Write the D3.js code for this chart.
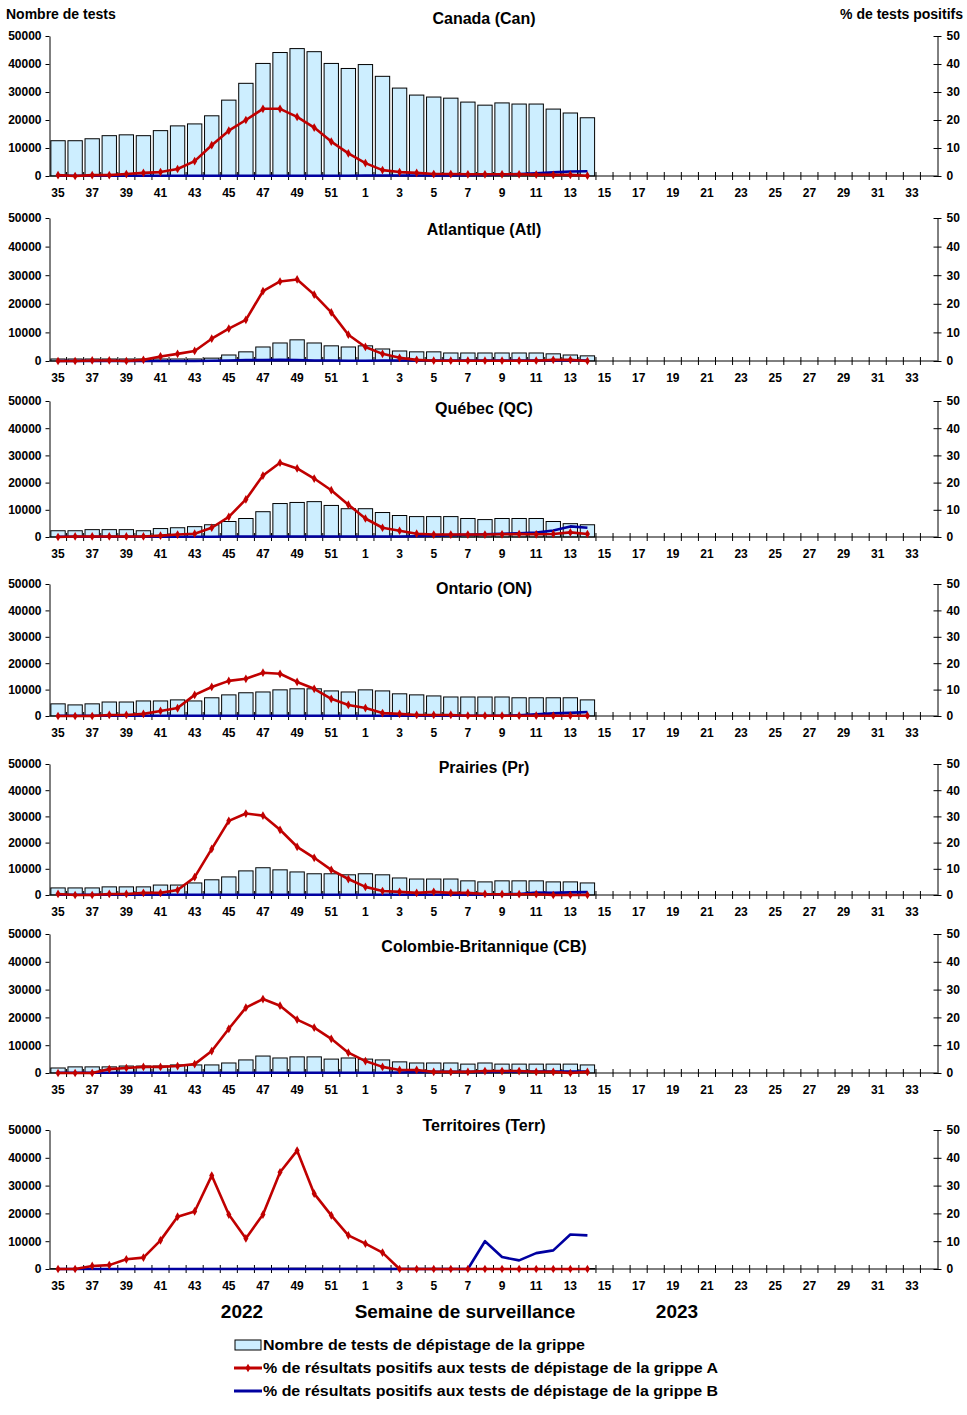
<!DOCTYPE html>
<html>
<head>
<meta charset="utf-8">
<script src="https://cdn.jsdelivr.net/npm/d3@7"></script>
<style>
  body { margin: 0; background: #fff; }
  svg { display: block; font-family: "Liberation Sans", Arial, sans-serif; font-weight: bold; }
</style>
</head>
<body>
<div id="chart"></div>
<script>
// surveillance weeks, 2022 (35-52) then 2023 (1-34)
const weeks = [35,36,37,38,39,40,41,42,43,44,45,46,47,48,49,50,51,52,
  1,2,3,4,5,6,7,8,9,10,11,12,13,14,15,16,17,18,19,20,21,22,23,24,25,26,27,28,29,30,31,32,33,34];
const labelWeeks = [35,37,39,41,43,45,47,49,51,1,3,5,7,9,11,13,15,17,19,21,23,25,27,29,31,33];
const testTicks = [0,10000,20000,30000,40000,50000];
const pctTicks = [0,10,20,30,40,50];

// number of tests, weeks 35 to 14
const canTests = [12600,12600,13300,14400,14700,14400,16200,17900,18600,21500,27100,33100,40200,44100,45500,44400,40200,38400,
  39800,35600,31400,28900,28200,27800,26400,25300,26100,25700,25700,23900,22500,20800];
const atlTests = [700,700,700,700,700,700,700,700,700,1000,2100,3200,4900,6300,7400,6300,5300,4900,
  5300,4200,3500,3200,3200,2800,2800,2800,2800,2800,2800,2500,2100,1800];
const qcTests = [2300,2300,2700,2700,2700,2300,3100,3400,3800,4500,5700,6800,9300,12300,12700,13000,11600,10400,
  10400,9000,7900,7500,7500,7500,6800,6400,6800,6800,6800,5700,4900,4500];
const onTests = [4600,4200,4600,5300,5300,5700,5700,6100,5700,6900,8000,8800,9100,9900,10300,10300,9500,9100,
  9900,9500,8400,8000,7600,7200,7200,7200,7200,6900,6900,6900,6900,6100];
const prTests = [2700,2700,2700,3100,3100,3100,3800,3800,4600,5800,6900,9200,10400,9600,8800,8100,8100,7700,
  8100,7700,6500,6100,6100,6100,5400,5000,5400,5400,5400,5000,5000,4600];
const cbTests = [1800,2200,2200,2200,2500,2500,2500,2900,2900,2900,3600,4700,6100,5400,5800,5800,5000,5400,
  5000,4700,4000,3600,3600,3600,3200,3600,3200,3200,3200,3200,3200,2900];
const terrTests = [120,130,140,150,150,160,170,180,200,210,230,250,260,280,300,290,270,260,
  270,260,240,230,220,210,200,200,190,190,180,180,170,160];

// % positive influenza A
const canA = [0.3,0,0.3,0.3,0.7,1.1,1.4,2.5,5.3,11.0,16.2,20.0,24.0,24.0,21.1,17.3,12.3,8.1,
  4.6,2.1,1.4,1.1,0.7,0.7,0.6,0.6,0.6,0.6,0.5,0.4,0.4,0.1];
const atlA = [0,0,0.2,0.2,0,0.4,1.6,2.5,3.5,7.8,11.3,14.4,24.4,27.8,28.5,23.2,17.0,9.2,
  4.9,2.5,1.1,0.4,0.1,0.1,0.1,0.1,0.1,0.1,0.1,0.4,0.4,0];
const qcA = [0,0.2,0.2,0.2,0.2,0.2,0.5,0.9,1.2,3.4,7.4,13.8,22.6,27.3,25.2,21.5,17.2,11.9,
  6.8,3.4,2.3,1.2,0.9,0.9,0.9,0.9,1.0,1.1,1.0,1.1,1.7,1.1];
const onA = [0,0,0,0.4,0.4,0.8,1.9,3.0,8.0,11.0,13.3,14.1,16.4,16.0,12.9,10.3,6.5,4.2,
  3.0,1.1,0.8,0.4,0.4,0.4,0.1,0.1,0.1,0.1,0.1,0.1,0.1,0.1];
const prA = [0.4,0,0,0.4,0.4,0.8,0.8,1.9,6.8,17.6,28.3,31.1,30.3,24.9,18.4,14.2,9.6,6.1,
  3.1,1.5,1.2,0.8,1.2,0.8,0.8,0.4,0.3,0.3,0.3,0,0,0];
const cbA = [0,0,0,1.4,1.8,2.2,2.2,2.5,3.2,7.9,15.9,23.5,26.6,24.2,19.2,16.3,12.3,7.3,
  4.3,2.2,1.1,1.1,0.4,0.4,0.4,0.7,0.7,0.7,0.4,0.4,0,0.4];
const terrA = [0,0,1.1,1.4,3.5,4.1,10.3,18.8,20.7,33.6,19.6,11.0,19.6,34.8,42.6,27.1,19.3,12.1,
  9.1,5.9,0,0,0,0,0,0,0,0,0,0,0,0];

// % positive influenza B
const canB = [0.1,0.1,0.1,0.1,0.1,0.1,0.1,0.1,0.1,0.1,0.1,0.1,0.1,0.1,0.1,0.1,0.1,0.1,
  0.2,0.2,0.2,0.2,0.2,0.2,0.3,0.4,0.5,0.7,1.0,1.3,1.6,1.7];
const atlB = [0,0,0,0,0,0,0,0,0,0.1,0.2,0.3,0.3,0.4,0.3,0.2,0.2,0.1,
  0.1,0.2,0.2,0.2,0.2,0.2,0.2,0.2,0.2,0.2,0.2,0.2,0.2,0.2];
const qcB = [0.1,0.1,0.1,0.1,0.1,0.1,0.1,0.1,0.1,0.1,0.2,0.2,0.2,0.2,0.2,0.2,0.2,0.2,
  0.2,0.2,0.2,0.3,0.5,0.7,0.8,1.0,1.2,1.4,1.6,2.4,3.9,3.4];
const onB = [0.1,0.1,0.1,0.1,0.1,0.1,0.1,0.1,0.1,0.1,0.1,0.1,0.1,0.1,0.1,0.1,0.1,0.1,
  0.1,0.1,0.1,0.1,0.1,0.1,0.1,0.1,0.1,0.3,0.6,1.0,1.2,1.5];
const prB = [0.1,0.1,0.1,0.1,0.1,0.1,0.1,0.1,0.1,0.1,0.1,0.1,0.1,0.1,0.1,0.1,0.1,0.1,
  0.1,0.1,0.1,0.1,0.1,0.1,0.1,0.2,0.3,0.4,0.9,0.8,1.0,1.1];
const cbB = [0.1,0.1,0.1,0.1,0.1,0.1,0.1,0.1,0.1,0.1,0.1,0.1,0.1,0.1,0.1,0.1,0.1,0.1,
  0.1,0.1,0.2,0.3,0.4,0.4,0.4,0.4,0.5,0.5,0.5,0.5,0.5,0.5];
const terrB = [0,0,0,0,0,0,0,0,0,0,0,0,0,0,0,0,0,0,
  0,0,0,0,0,0,0,10.0,4.3,3.1,5.7,6.7,12.4,12.1];

const regionNames = ["Canada (Can)","Atlantique (Atl)","Québec (QC)","Ontario (ON)",
  "Prairies (Pr)","Colombie-Britannique (CB)","Territoires (Terr)"];

const regions = [
  {name: regionNames[0], tests: canTests, a: canA, b: canB},
  {name: regionNames[1], tests: atlTests, a: atlA, b: atlB},
  {name: regionNames[2], tests: qcTests, a: qcA, b: qcB},
  {name: regionNames[3], tests: onTests, a: onA, b: onB},
  {name: regionNames[4], tests: prTests, a: prA, b: prB},
  {name: regionNames[5], tests: cbTests, a: cbA, b: cbB},
  {name: regionNames[6], tests: terrTests, a: terrA, b: terrB}
];

// panel layout (pixel rows of the 50000 line, the 0 line and the title)
const panelTop = [36, 218, 401, 584, 764, 934, 1130];
const panelBottom = [176, 361, 537, 716, 895, 1073, 1269];
const titleY = [20, 231, 410, 590, 769, 948, 1127];

const width = 967;
const height = 1415;
const colA = "#c00000";
const colB = "#0000a0";

const svg = d3.select("#chart")
  .append("svg")
  .attr("width", width)
  .attr("height", height)
  .attr("viewBox", [0, 0, width, height]);

const x = d3.scaleBand()
  .domain(weeks)
  .range([49.5, 937.5])
  .padding(0);
const step = x.step();

regions.forEach((r, p) => {
  const g = svg.append("g");
  const y = d3.scaleLinear().domain([0, 50000]).range([panelBottom[p], panelTop[p]]);
  const yp = d3.scaleLinear().domain([0, 50]).range([panelBottom[p], panelTop[p]]);
  const dataWeeks = weeks.slice(0, r.tests.length);

  // bars
  g.append("g")
    .selectAll("rect")
    .data(r.tests)
    .join("rect")
    .attr("x", (d, i) => x(dataWeeks[i]) + step * 0.08)
    .attr("y", d => y(d))
    .attr("width", step * 0.84)
    .attr("height", d => y(0) - y(d))
    .attr("fill", "#cdeeff")
    .attr("stroke", "#000")
    .attr("stroke-width", 1);

  // left axis
  g.append("g")
    .attr("transform", `translate(${x.range()[0]},0)`)
    .call(d3.axisLeft(y).tickValues(testTicks).tickFormat(d3.format("d")).tickSize(4).tickSizeOuter(0))
    .call(a => a.selectAll("text").attr("font-size", 12).attr("font-weight", "bold").attr("fill", "#000").attr("x", -8))
    .call(a => a.attr("font-family", null));

  // right axis
  g.append("g")
    .attr("transform", `translate(${x.range()[1]},0)`)
    .call(d3.axisRight(yp).tickValues(pctTicks).tickSize(4).tickSizeOuter(0))
    .call(a => a.selectAll(".tick line").attr("x1", -4))
    .call(a => a.selectAll("text").attr("font-size", 12).attr("font-weight", "bold").attr("fill", "#000").attr("x", 9))
    .call(a => a.attr("font-family", null));

  // x axis line with boundary ticks
  const xg = g.append("g").attr("transform", `translate(0,${y(0)})`);
  xg.append("line")
    .attr("x1", x.range()[0]).attr("x2", x.range()[1])
    .attr("stroke", "#000");
  xg.selectAll(".bt")
    .data(weeks.slice(1))
    .join("line")
    .attr("x1", d => x(d)).attr("x2", d => x(d))
    .attr("y1", -4).attr("y2", 4)
    .attr("stroke", "#000");
  xg.append("g")
    .call(d3.axisBottom(x).tickValues(labelWeeks).tickSize(0))
    .call(a => a.select(".domain").remove())
    .call(a => a.selectAll("text").attr("font-size", 12).attr("font-weight", "bold").attr("fill", "#000").attr("dy", "1.5em"))
    .call(a => a.attr("font-family", null));

  // lines
  const line = d3.line()
    .x((d, i) => x(dataWeeks[i]) + step / 2)
    .y(d => yp(d));

  g.append("path")
    .attr("d", line(r.b))
    .attr("fill", "none")
    .attr("stroke", colB)
    .attr("stroke-width", 2.6)
    .attr("stroke-linejoin", "round");

  g.append("path")
    .attr("d", line(r.a))
    .attr("fill", "none")
    .attr("stroke", colA)
    .attr("stroke-width", 2.6)
    .attr("stroke-linejoin", "round");

  g.append("g")
    .selectAll("path")
    .data(r.a)
    .join("path")
    .attr("transform", (d, i) => `translate(${x(dataWeeks[i]) + step / 2},${yp(d)})`)
    .attr("d", d3.symbol(d3.symbolDiamond, 22))
    .attr("fill", colA);

  // title
  svg.append("text")
    .attr("x", 484)
    .attr("y", titleY[p])
    .attr("text-anchor", "middle")
    .attr("dominant-baseline", "middle")
    .attr("font-size", 16)
    .text(r.name);
});

// axis titles
svg.append("text").attr("x", 6).attr("y", 19).attr("font-size", 14).text("Nombre de tests");
svg.append("text").attr("x", 963).attr("y", 19).attr("font-size", 14)
  .attr("text-anchor", "end").text("%  de tests positifs");

// bottom labels
svg.append("text").attr("x", 242).attr("y", 1318).attr("font-size", 19)
  .attr("text-anchor", "middle").text("2022");
svg.append("text").attr("x", 465).attr("y", 1318).attr("font-size", 19)
  .attr("text-anchor", "middle").text("Semaine de surveillance");
svg.append("text").attr("x", 677).attr("y", 1318).attr("font-size", 19)
  .attr("text-anchor", "middle").text("2023");

// legend
const legendItems = ["Nombre de tests de dépistage de la grippe",
  "% de résultats positifs aux tests de dépistage de la grippe A",
  "% de résultats positifs aux tests de dépistage de la grippe B"];
const lg = svg.append("g").attr("transform", "translate(234,1345)");
legendItems.forEach((t, i) => {
  const row = lg.append("g").attr("transform", `translate(0,${i * 23})`);
  if (i === 0) {
    row.append("rect").attr("x", 1).attr("y", -5).attr("width", 26).attr("height", 10)
      .attr("fill", "#cdeeff").attr("stroke", "#000");
  } else {
    row.append("line").attr("x1", 0).attr("x2", 28).attr("y1", 0).attr("y2", 0)
      .attr("stroke", i === 1 ? colA : colB).attr("stroke-width", 3);
    if (i === 1) {
      row.append("path").attr("transform", "translate(14,0)")
        .attr("d", d3.symbol(d3.symbolDiamond, 22)).attr("fill", colA);
    }
  }
  row.append("text").attr("x", 29).attr("y", 1).attr("dominant-baseline", "middle")
    .attr("font-size", 15.5).attr("textLength", i === 0 ? 322 : 455).attr("lengthAdjust", "spacingAndGlyphs")
    .text(t);
});
</script>
</body>
</html>
